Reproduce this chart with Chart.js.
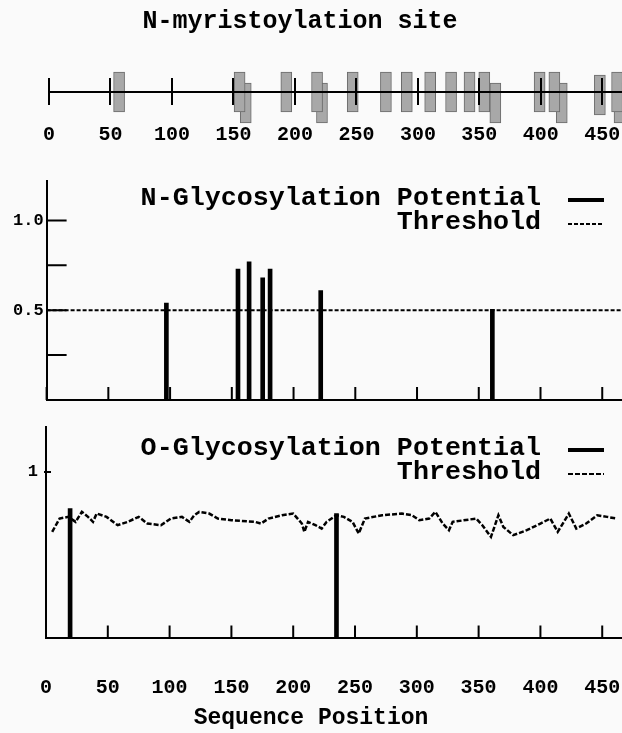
<!DOCTYPE html>
<html>
<head>
<meta charset="utf-8">
<title>N-myristoylation and glycosylation sites</title>
<script src="https://cdn.jsdelivr.net/npm/chart.js"></script>
<style>
  html, body { margin: 0; padding: 0; background: #fafafa; overflow: hidden; }
  body { position: relative; width: 622px; height: 733px; }
  canvas { position: absolute; }
  #myr-chart { left: -22px; top: 0; }
  #n-chart { left: 0; top: 150px; }
  #o-chart { left: 0; top: 405px; }
</style>
</head>
<body>
<canvas id="myr-chart" width="644" height="150"></canvas>
<canvas id="n-chart" width="622" height="270"></canvas>
<canvas id="o-chart" width="622" height="328"></canvas>
<script>
// sequence length shown on the x axes
const seqMax = 466;

// N-myristoylation sites, drawn as boxes in staggered rows
const myrUpper = [57, 155, 193, 218, 247, 274, 291, 310, 327, 342, 354, 399, 411, 462];
const myrMid = [448];
const myrLower = [160, 222, 363, 417, 464];

// N-glycosylation potential
const nGlycPos = [97, 155, 164, 175, 181, 222, 361];
const nGlycVal = [0.54, 0.73, 0.77, 0.68, 0.73, 0.61, 0.505];
const nThreshold = 0.5;

// O-glycosylation potential and its (position dependent) threshold
const oGlycPos = [19.5, 235];
const oGlycVal = [0.78, 0.75];
const oThrPos = [5, 11, 18, 24, 29, 34, 38, 41, 49, 58, 66, 75, 82, 93, 101, 110, 116, 120, 124, 132,
  139, 150, 169, 174, 180, 191, 200, 207, 209, 212, 218, 223, 227, 235, 241, 248, 253, 258, 272, 288,
  296, 302, 310, 315, 321, 326, 329, 348, 353, 360, 366, 370, 378, 389, 400, 408, 414, 423, 429, 437,
  446, 454, 462];
const oThrVal = [0.64, 0.72, 0.73, 0.70, 0.76, 0.73, 0.70, 0.75, 0.73, 0.68, 0.70, 0.73, 0.69, 0.68, 0.72, 0.73, 0.70, 0.74, 0.76, 0.75,
  0.72, 0.71, 0.70, 0.69, 0.72, 0.74, 0.75, 0.69, 0.64, 0.70, 0.68, 0.66, 0.70, 0.74, 0.73, 0.70, 0.63, 0.72, 0.74, 0.75,
  0.74, 0.71, 0.72, 0.76, 0.69, 0.65, 0.70, 0.72, 0.68, 0.61, 0.74, 0.67, 0.62, 0.65, 0.69, 0.72, 0.64, 0.75, 0.66, 0.69,
  0.74, 0.73, 0.72];

Chart.defaults.font.family = '"Liberation Mono", "DejaVu Sans Mono", monospace';
Chart.defaults.font.weight = 'bold';
Chart.defaults.color = '#000';

// box extents (relative to the axis line) for each row of the top panel
const ROW_UPPER = [-20, 20];
const ROW_MID = [-23, 17];
const ROW_LOWER = [-31, 9];

// short tick marks pointing into the plot
const innerTicks = {
  id: 'innerTicks',
  afterDatasetsDraw(chart, args, opts) {
    const { ctx, chartArea, scales: { x, y } } = chart;
    ctx.save();
    ctx.strokeStyle = '#000';
    ctx.lineWidth = 2;
    ctx.beginPath();
    x.ticks.forEach(t => {
      const px = x.getPixelForValue(t.value);
      ctx.moveTo(px, chartArea.bottom);
      ctx.lineTo(px, chartArea.bottom - opts.x);
    });
    y.ticks.forEach(t => {
      if (t.value === 0) return;
      const py = y.getPixelForValue(t.value);
      ctx.moveTo(chartArea.left - (opts.yOut || 0), py);
      ctx.lineTo(chartArea.left + opts.y, py);
    });
    ctx.stroke();
    ctx.restore();
  }
};

// legend stacked at the top right, sample line after the text
const sideLegend = {
  id: 'sideLegend',
  afterDraw(chart, args, opts) {
    const ctx = chart.ctx;
    ctx.save();
    ctx.font = 'bold 26.7px "Liberation Mono", "DejaVu Sans Mono", monospace';
    ctx.fillStyle = '#000';
    ctx.strokeStyle = '#000';
    ctx.textAlign = 'right';
    ctx.textBaseline = 'middle';
    chart.data.datasets.forEach((ds, i) => {
      const y = opts.top + i * opts.gap;
      ctx.fillText(ds.label, opts.textRight, y);
      ctx.beginPath();
      ctx.lineWidth = ds.legendWidth;
      ctx.setLineDash(ds.borderDash || []);
      ctx.moveTo(opts.sampleLeft, y + 2);
      ctx.lineTo(opts.sampleRight, y + 2);
      ctx.stroke();
    });
    ctx.restore();
  }
};

const boxStyle = {
  backgroundColor: '#a8a8a8',
  borderColor: '#6a6a6a',
  borderWidth: 1,
  borderSkipped: false,
  barThickness: 11,
  grouped: false,
  clip: false
};

// top panel: myristoylation sites
new Chart(document.getElementById('myr-chart'), {
  type: 'bar',
  data: {
    datasets: [
      { data: myrUpper.map(p => ({ x: p, y: ROW_UPPER })), ...boxStyle },
      { data: myrMid.map(p => ({ x: p, y: ROW_MID })), ...boxStyle },
      { data: myrLower.map(p => ({ x: p, y: ROW_LOWER })), ...boxStyle }
    ]
  },
  options: {
    responsive: false,
    animation: false,
    devicePixelRatio: 1,
    layout: { padding: { left: 0, right: 0, top: 0, bottom: 3 } },
    plugins: {
      legend: { display: false },
      tooltip: { enabled: false },
      title: {
        display: true,
        text: 'N-myristoylation site',
        font: { size: 25 },
        color: '#000',
        padding: { top: 7, bottom: 41 }
      }
    },
    scales: {
      x: {
        type: 'linear', min: 0, max: seqMax, offset: false,
        ticks: { stepSize: 50, includeBounds: false, font: { size: 20 }, padding: 0, maxRotation: 0, autoSkip: false },
        grid: { color: '#000', lineWidth: 2, offset: false, drawTicks: true, tickLength: 18, tickColor: 'rgba(0,0,0,0)', z: 1 },
        border: { display: false }
      },
      y: {
        min: -13, max: 14,
        afterBuildTicks: s => { s.ticks = [{ value: 0 }]; },
        afterFit: s => { s.width = 71; },
        ticks: { display: false },
        grid: { color: '#000', lineWidth: 2, drawTicks: false, z: 1 },
        border: { display: false }
      }
    }
  }
});

// middle panel: N-glycosylation
new Chart(document.getElementById('n-chart'), {
  type: 'bar',
  data: {
    datasets: [
      {
        label: 'N-Glycosylation Potential',
        data: nGlycPos.map((p, i) => ({ x: p, y: nGlycVal[i] })),
        backgroundColor: '#000',
        barThickness: 4,
        legendWidth: 4
      },
      {
        type: 'line',
        label: 'Threshold',
        data: [{ x: 0, y: nThreshold }, { x: seqMax, y: nThreshold }],
        borderColor: '#000',
        borderWidth: 2,
        borderDash: [4, 2],
        pointRadius: 0,
        legendWidth: 2
      }
    ]
  },
  options: {
    responsive: false,
    animation: false,
    devicePixelRatio: 1,
    layout: { padding: { left: 10, right: 0, top: 31, bottom: 20 } },
    plugins: {
      legend: { display: false },
      tooltip: { enabled: false },
      innerTicks: { x: 13, y: 20 },
      sideLegend: { top: 48, gap: 24, textRight: 541, sampleLeft: 568, sampleRight: 604 }
    },
    scales: {
      x: {
        type: 'linear', min: 0, max: seqMax, offset: false,
        ticks: { display: false, stepSize: 50, includeBounds: false },
        grid: { display: false, drawTicks: false },
        border: { color: '#000', width: 2 }
      },
      y: {
        min: 0, max: 1.22,
        ticks: {
          stepSize: 0.25, includeBounds: false, padding: 3, font: { size: 17 },
          callback: v => (Math.abs(v - 0.5) < 1e-6 || Math.abs(v - 1) < 1e-6) ? v.toFixed(1) : ''
        },
        grid: { display: false, drawTicks: false },
        border: { color: '#000', width: 2 }
      }
    }
  },
  plugins: [innerTicks, sideLegend]
});

// bottom panel: O-glycosylation
new Chart(document.getElementById('o-chart'), {
  type: 'bar',
  data: {
    datasets: [
      {
        label: 'O-Glycosylation Potential',
        data: oGlycPos.map((p, i) => ({ x: p, y: oGlycVal[i] })),
        backgroundColor: '#000',
        barThickness: 4,
        legendWidth: 4
      },
      {
        type: 'line',
        label: 'Threshold',
        data: oThrPos.map((p, i) => ({ x: p, y: oThrVal[i] })),
        borderColor: '#000',
        borderWidth: 2.5,
        borderDash: [5, 2],
        pointRadius: 0,
        tension: 0,
        legendWidth: 2
      }
    ]
  },
  options: {
    responsive: false,
    animation: false,
    devicePixelRatio: 1,
    layout: { padding: { left: 0, right: 0, top: 22, bottom: 0 } },
    plugins: {
      legend: { display: false },
      tooltip: { enabled: false },
      title: {
        display: true,
        position: 'bottom',
        text: 'Sequence Position',
        font: { size: 23 },
        color: '#000',
        padding: { top: 4, bottom: 1 }
      },
      innerTicks: { x: 13, y: 5, yOut: 2 },
      sideLegend: { top: 43, gap: 24, textRight: 541, sampleLeft: 568, sampleRight: 604 }
    },
    scales: {
      x: {
        type: 'linear', min: 0, max: seqMax, offset: false,
        ticks: { stepSize: 50, includeBounds: false, font: { size: 20 }, padding: 0, maxRotation: 0, autoSkip: false },
        grid: { display: true, drawOnChartArea: false, drawTicks: true, tickLength: 38, tickColor: 'rgba(0,0,0,0)' },
        border: { color: '#000', width: 2 }
      },
      y: {
        min: 0, max: 1.27,
        afterFit: s => { s.width = 46; },
        ticks: { stepSize: 1, includeBounds: false, padding: 8, font: { size: 17 }, callback: v => v === 1 ? '1' : '' },
        grid: { display: false, drawTicks: false },
        border: { color: '#000', width: 2 }
      }
    }
  },
  plugins: [innerTicks, sideLegend]
});
</script>
</body>
</html>
